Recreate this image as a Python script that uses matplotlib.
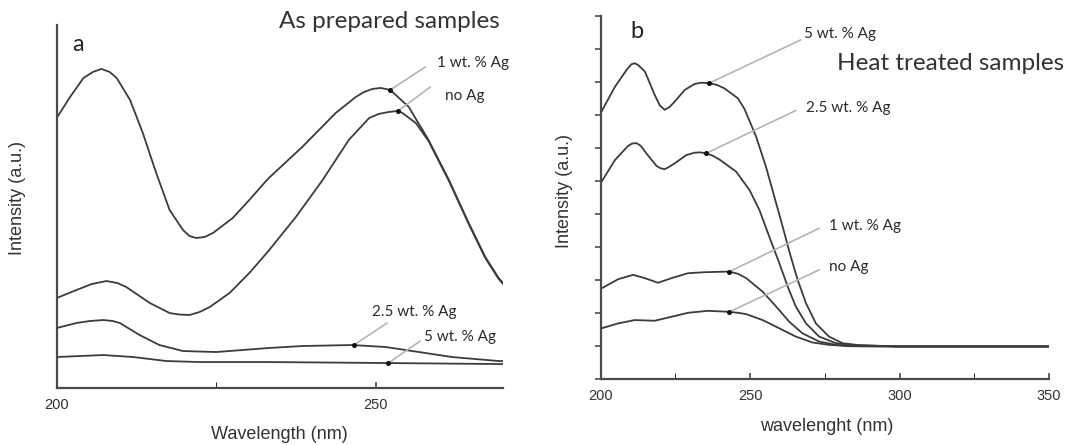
import matplotlib
matplotlib.use('Agg')
import matplotlib.pyplot as plt
from matplotlib.ticker import MultipleLocator, NullFormatter

# ---- data (a): as prepared samples ----
wl_a_1wt = [200, 202.1, 204.2, 205.7, 207.0, 208.3, 209.4, 211.5, 213.5, 215.6, 217.7, 219.8,
            220.8, 221.9, 223.2, 224.5, 227.6, 230.2, 233.1, 238.5, 243.75, 246.9, 248.2, 249.5,
            250.8, 252.3, 255.2, 258.3, 261.5, 264.6, 267.2, 269.3, 270]
int_a_1wt = [2.70, 2.91, 3.10, 3.16, 3.19, 3.16, 3.10, 2.88, 2.55, 2.15, 1.78, 1.58,
             1.52, 1.50, 1.51, 1.55, 1.70, 1.88, 2.09, 2.41, 2.75, 2.91, 2.96, 2.99,
             3.00, 2.98, 2.81, 2.48, 2.08, 1.65, 1.31, 1.10, 1.05]

wl_a_noag = [200, 203.1, 205.5, 207.8, 209.5, 210.9, 214.6, 217.7, 219.2, 220.8, 222.4, 224.0,
             227.1, 230.2, 233.2, 237.5, 241.7, 245.8, 249.0, 250.5, 252.1, 253.5, 254.2, 256.3,
             258.3, 261.5, 264.6, 267.2, 269.3, 270]
int_a_noag = [0.90, 0.98, 1.04, 1.07, 1.05, 1.01, 0.85, 0.75, 0.735, 0.73, 0.76, 0.81,
              0.95, 1.15, 1.37, 1.71, 2.08, 2.48, 2.70, 2.74, 2.76, 2.77, 2.75, 2.65,
              2.47, 2.07, 1.64, 1.30, 1.09, 1.04]

wl_a_25wt = [200, 203.1, 205.2, 207.3, 208.8, 209.9, 213.0, 216.1, 219.8, 225.0, 233.2, 238.5,
             246.3, 251.6, 256.8, 262.0, 269.3, 270]
int_a_25wt = [0.60, 0.65, 0.67, 0.68, 0.67, 0.65, 0.53, 0.43, 0.37, 0.36, 0.40, 0.42,
              0.43, 0.41, 0.36, 0.31, 0.27, 0.27]

wl_a_5wt = [200, 207.3, 212.0, 217.2, 222.4, 233.1, 251.6, 269.3, 270]
int_a_5wt = [0.31, 0.33, 0.31, 0.27, 0.26, 0.26, 0.25, 0.24, 0.24]

# ---- data (b): heat treated samples ----
wl_b_5wt = [200.3, 204.8, 208.7, 210.3, 211.4, 212.5, 214.8, 218.1, 219.8, 221.4, 223.0, 224.8,
            228.1, 231.4, 233.5, 236.4, 239.0, 241.4, 245.9, 248.1, 252.0, 255.3, 258.1, 260.9,
            263.3, 265.9, 268.7, 272.0, 276.4, 280.9, 286.4, 300, 325, 350]
int_b_5wt = [8.12, 8.87, 9.38, 9.55, 9.58, 9.53, 9.33, 8.62, 8.30, 8.17, 8.25, 8.42,
             8.77, 8.95, 8.99, 8.98, 8.92, 8.82, 8.52, 8.20, 7.36, 6.45, 5.54, 4.63,
             3.82, 3.02, 2.31, 1.70, 1.30, 1.10, 1.04, 1.0, 1.0, 1.0]

wl_b_25wt = [200.3, 204.8, 209.2, 210.6, 212.0, 213.4, 215.3, 218.7, 220.0, 221.4, 222.9, 224.8,
             228.7, 231.4, 233.3, 235.3, 237.5, 239.8, 245.3, 249.8, 253.1, 256.4, 259.8, 262.6,
             265.3, 268.7, 273.1, 278.7, 284.2, 300, 325, 350]
int_b_25wt = [5.99, 6.65, 7.08, 7.15, 7.16, 7.08, 6.85, 6.47, 6.40, 6.37, 6.44, 6.55,
              6.80, 6.87, 6.88, 6.85, 6.78, 6.66, 6.30, 5.74, 5.14, 4.33, 3.52, 2.81,
              2.21, 1.70, 1.30, 1.10, 1.04, 1.0, 1.0, 1.0]

wl_b_1wt = [200.3, 205.9, 210.9, 214.8, 219.2, 223.7, 229.2, 234.8, 243.1, 246.0, 248.7, 254.2,
            258.7, 263.1, 267.5, 273.1, 278.7, 284, 300, 325, 350]
int_b_1wt = [2.76, 3.04, 3.17, 3.07, 2.93, 3.07, 3.22, 3.25, 3.27, 3.20, 3.07, 2.66,
             2.21, 1.75, 1.40, 1.15, 1.05, 1.01, 1.0, 1.0, 1.0]

wl_b_noag = [200.3, 205.9, 211.4, 218.1, 223.7, 229.2, 235.9, 243.1, 246.0, 248.7, 254.2, 259.8,
             265.3, 270.9, 276.4, 283, 300, 325, 350]
int_b_noag = [1.55, 1.70, 1.80, 1.78, 1.90, 2.02, 2.08, 2.05, 2.02, 1.98, 1.80, 1.55,
              1.30, 1.12, 1.05, 1.01, 1.0, 1.0, 1.0]

# label anchors: (marker on curve, end of leader line, text position)
labels_a = ['1 wt. % Ag', 'no Ag', '2.5 wt. % Ag', '5 wt. % Ag']
marks_a = [(252.3, 2.98), (253.5, 2.77), (246.6, 0.43), (252.0, 0.25)]
lead_a = [(257.8, 3.21), (258.6, 3.01), (251.8, 0.65), (257.0, 0.47)]
text_a = [(259.6, 3.25), (260.9, 2.92), (249.5, 0.76), (257.6, 0.51)]

labels_b = ['5 wt. % Ag', '2.5 wt. % Ag', '1 wt. % Ag', 'no Ag']
marks_b = [(236.4, 8.98), (235.3, 6.85), (243.1, 3.27), (243.1, 2.05)]
lead_b = [(267.0, 10.29), (265.3, 8.15), (273.1, 4.58), (273.1, 3.32)]
text_b = [(268.1, 10.47), (268.7, 8.22), (276.4, 4.65), (276.4, 3.42)]

line_col = '#3c3c3c'
spine_col = '#4a4a4a'
lead_col = '#b4b4b4'
ann_font = ['Lato', 'DejaVu Sans']

plt.rcParams['font.family'] = ['Liberation Sans', 'DejaVu Sans']

fig = plt.figure(figsize=(10.68, 4.45), dpi=100)
ax1 = fig.add_axes([0.0531, 0.128, 0.418, 0.816])
ax2 = fig.add_axes([0.5624, 0.1472, 0.4198, 0.816])

for ax in (ax1, ax2):
    for s in ('top', 'right'):
        ax.spines[s].set_visible(False)
    for s in ('left', 'bottom'):
        ax.spines[s].set_color(spine_col)
        ax.spines[s].set_linewidth(1.6)
    ax.tick_params(colors=spine_col, labelcolor='#333333', labelsize=10.5, width=1.2)

# (a)
ax1.plot(wl_a_1wt, int_a_1wt, color=line_col, lw=1.3)
ax1.plot(wl_a_noag, int_a_noag, color=line_col, lw=1.3)
ax1.plot(wl_a_25wt, int_a_25wt, color=line_col, lw=1.3)
ax1.plot(wl_a_5wt, int_a_5wt, color=line_col, lw=1.3)
ax1.set_xlim(200, 270)
ax1.set_ylim(0, 3.63)
ax1.set_xticks([200, 250])
ax1.xaxis.set_minor_locator(MultipleLocator(25))
ax1.tick_params(axis='x', which='both', direction='in', length=4, pad=7)
ax1.set_yticks([])
ax1.set_xlabel('Wavelength (nm)', fontsize=13, color='#333333')
ax1.set_ylabel('Intensity (a.u.)', fontsize=13, color='#333333')
ax1.xaxis.set_label_coords(0.498, -0.105)
ax1.yaxis.set_label_coords(-0.068, 0.523)

# (b)
ax2.plot(wl_b_5wt, int_b_5wt, color=line_col, lw=1.3)
ax2.plot(wl_b_25wt, int_b_25wt, color=line_col, lw=1.3)
ax2.plot(wl_b_1wt, int_b_1wt, color=line_col, lw=1.3)
ax2.plot(wl_b_noag, int_b_noag, color=line_col, lw=1.3)
ax2.set_xlim(200, 350)
ax2.set_ylim(0, 11)
ax2.set_xticks([200, 250, 300, 350])
ax2.xaxis.set_minor_locator(MultipleLocator(25))
ax2.tick_params(axis='x', which='both', direction='in', length=4, pad=7)
ax2.set_yticks(range(0, 12))
ax2.yaxis.set_major_formatter(NullFormatter())
ax2.tick_params(axis='y', direction='out', length=4)
ax2.set_xlabel('wavelenght (nm)', fontsize=13, color='#333333')
ax2.set_ylabel('Intensity (a.u.)', fontsize=13, color='#333333')
ax2.xaxis.set_label_coords(0.505, -0.107)
ax2.yaxis.set_label_coords(-0.061, 0.519)

for ax, labs, mk, ld, tx in ((ax1, labels_a, marks_a, lead_a, text_a),
                             (ax2, labels_b, marks_b, lead_b, text_b)):
    for lab, m, l, t in zip(labs, mk, ld, tx):
        ax.annotate('', xy=m, xytext=l,
                    arrowprops=dict(arrowstyle='-', color=lead_col, lw=1.2,
                                    shrinkA=0, shrinkB=0))
        ax.plot(m[0], m[1], 'o', color='#111111', ms=2.6, zorder=5)
        ax.text(t[0], t[1], lab, ha='left', va='center', fontsize=11,
                color='#2a2a2a', family=ann_font)

fig.text(0.0735, 0.899, 'a', fontsize=17, ha='center', va='center',
         family=ann_font, color='#222222')
fig.text(0.5964, 0.930, 'b', fontsize=17, ha='center', va='center',
         family=ann_font, color='#222222')
fig.text(0.468, 0.951, 'As prepared samples', fontsize=17.5, ha='right', va='center',
         family=ann_font, color='#333333')
fig.text(0.7834, 0.858, 'Heat treated samples', fontsize=17.5, ha='left', va='center',
         family=ann_font, color='#333333')

fig.savefig('out.png', dpi=100, facecolor='white')
